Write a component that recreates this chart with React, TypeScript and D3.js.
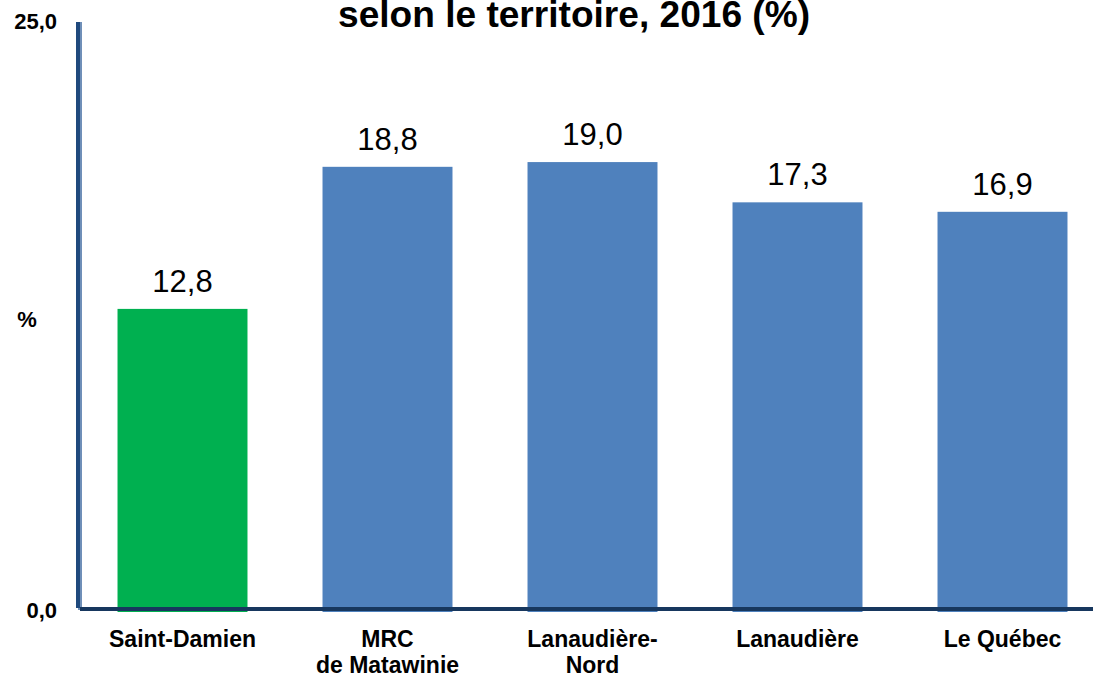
import { useEffect, useRef } from "react";
import * as d3 from "d3";

// Data
const categories = ["Saint-Damien", "MRC\nde Matawinie", "Lanaudière-\nNord", "Lanaudière", "Le Québec"];
const values = [12.8, 18.8, 19.0, 17.3, 16.9];
const barColors = ["#00B050", "#4F81BD", "#4F81BD", "#4F81BD", "#4F81BD"];
const yTicks = [0, 25];

const width = 1093;
const height = 675;

const App = () => {
  const svgRef = useRef<SVGSVGElement | null>(null);

  useEffect(() => {
    if (!svgRef.current) return;
    const svg = d3.select(svgRef.current);
    svg.selectAll("*").remove();

    const font = "Arial, 'Liberation Sans', sans-serif";
    const axisColor = "#1F497D";

    // Scales
    const x = d3.scaleBand<string>()
      .domain(categories)
      .range([80, 1105])
      .paddingInner(0.366)
      .paddingOuter(0.183);
    const y = d3.scaleLinear().domain([0, 25]).range([612, 20]);

    // Title (only the second line is visible)
    svg.append("text")
      .attr("x", 574)
      .attr("y", 27)
      .attr("text-anchor", "middle")
      .attr("font-family", font)
      .attr("font-weight", "bold")
      .attr("font-size", 36)
      .attr("textLength", 472)
      .attr("lengthAdjust", "spacingAndGlyphs")
      .text("selon le territoire, 2016 (%)");

    // Bars
    svg.append("g")
      .selectAll("rect")
      .data(values)
      .join("rect")
      .attr("x", (d, i) => x(categories[i])!)
      .attr("y", (d) => y(d))
      .attr("width", x.bandwidth())
      .attr("height", (d) => y(0) - y(d))
      .attr("fill", (d, i) => barColors[i]);

    // Value labels
    svg.append("g")
      .selectAll("text")
      .data(values)
      .join("text")
      .attr("x", (d, i) => x(categories[i])! + x.bandwidth() / 2)
      .attr("y", (d) => y(d) - 17)
      .attr("text-anchor", "middle")
      .attr("font-family", font)
      .attr("font-size", 31)
      .attr("fill", "#000")
      .text((d) => d.toFixed(1).replace(".", ","));

    // Axis lines (with a light shadow like the original)
    const axes = svg.append("g");
    axes.append("line")
      .attr("x1", 80).attr("x2", 80)
      .attr("y1", 22).attr("y2", 610)
      .attr("stroke", "#6F8FB8").attr("stroke-width", 4);
    axes.append("line")
      .attr("x1", 78).attr("x2", 78)
      .attr("y1", 22).attr("y2", 608)
      .attr("stroke", axisColor).attr("stroke-width", 4);
    axes.append("line")
      .attr("x1", 80).attr("x2", width)
      .attr("y1", 609).attr("y2", 609)
      .attr("stroke", "#17375E").attr("stroke-width", 4);

    // Y tick labels
    svg.append("g")
      .selectAll("text")
      .data(yTicks)
      .join("text")
      .attr("x", 57)
      .attr("y", (d) => (d === 0 ? y(d) + 6 : y(d) + 9))
      .attr("text-anchor", "end")
      .attr("font-family", font)
      .attr("font-weight", "bold")
      .attr("font-size", 22)
      .text((d) => d.toFixed(1).replace(".", ","));

    // Y axis title
    svg.append("text")
      .attr("x", 27)
      .attr("y", 327)
      .attr("text-anchor", "middle")
      .attr("font-family", font)
      .attr("font-weight", "bold")
      .attr("font-size", 22)
      .text("%");

    // Category labels
    const cat = svg.append("g")
      .selectAll("text")
      .data(categories)
      .join("text")
      .attr("x", (d) => x(d)! + x.bandwidth() / 2)
      .attr("y", 647)
      .attr("text-anchor", "middle")
      .attr("font-family", font)
      .attr("font-weight", "bold")
      .attr("font-size", 23);
    cat.each(function (d) {
      const t = d3.select(this);
      const cx = t.attr("x");
      d.split("\n").forEach((line, i) => {
        t.append("tspan")
          .attr("x", cx)
          .attr("dy", i === 0 ? 0 : 26)
          .text(line);
      });
    });
  }, []);

  return (
    <div style={{ position: "fixed", left: 0, top: 0, width, height, background: "#fff", overflow: "hidden" }}>
      <svg ref={svgRef} width={width} height={height} viewBox={`0 0 ${width} ${height}`} />
    </div>
  );
};

export default App;
